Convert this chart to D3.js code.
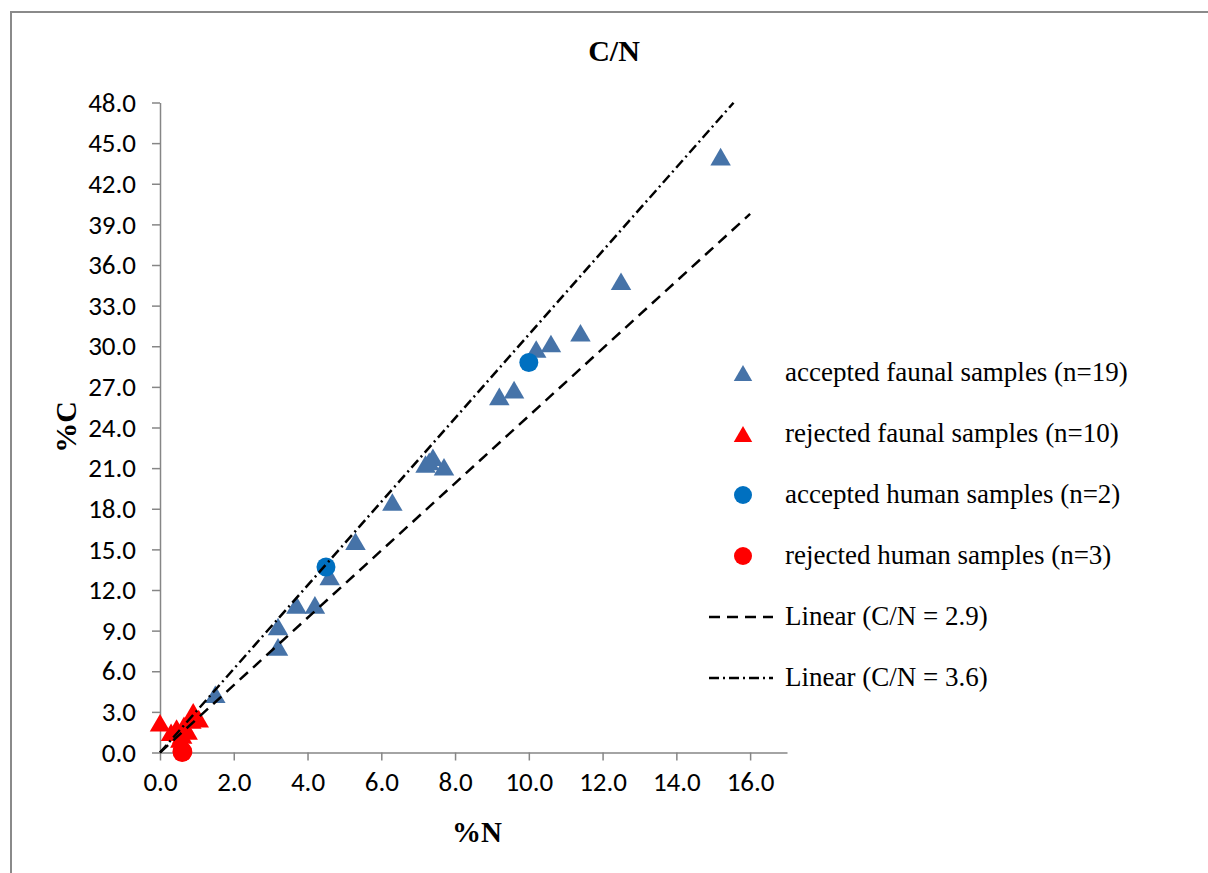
<!DOCTYPE html>
<html>
<head>
<meta charset="utf-8">
<script src="https://cdn.jsdelivr.net/npm/d3@7"></script>
<style>
  html, body { margin: 0; padding: 0; background: #fff; }
  svg { display: block; }
</style>
</head>
<body>
<svg id="chart" width="1208" height="873"></svg>
<script>
// %N / %C measurements per sample group
const acceptedFaunalN = [15.2, 12.5, 11.4, 10.6, 10.2, 9.6, 9.2, 7.2, 7.4, 7.7, 7.3, 6.3, 5.3, 4.6, 3.7, 4.2, 3.2, 3.2, 1.5];
const acceptedFaunalC = [44.0, 34.8, 31.0, 30.2, 29.8, 26.8, 26.3, 21.3, 21.8, 21.1, 21.5, 18.5, 15.6, 13.0, 10.9, 10.9, 9.3, 7.8, 4.3];

const rejectedFaunalN = [0.0, 0.3, 0.45, 0.6, 0.65, 0.75, 0.85, 0.9, 1.05, 0.55];
const rejectedFaunalC = [2.2, 1.5, 1.8, 1.3, 2.0, 1.6, 2.4, 3.0, 2.5, 1.0];

const acceptedHumanN = [4.5, 10.0];
const acceptedHumanC = [13.7, 28.8];

const rejectedHumanN = [0.6, 0.62, 0.6];
const rejectedHumanC = [0.0, 0.05, 0.1];

// reference C/N lines (atomic ratio; %C = ratio * 12/14 * %N)
const ratioValues = [2.9, 3.6];
const ratioLineEndN = [16.0, 15.55];

const xTicks = [0, 2, 4, 6, 8, 10, 12, 14, 16];
const yTicks = [0, 3, 6, 9, 12, 15, 18, 21, 24, 27, 30, 33, 36, 39, 42, 45, 48];

const legendLabels = [
  "accepted faunal samples (n=19)",
  "rejected faunal samples (n=10)",
  "accepted human samples (n=2)",
  "rejected human samples (n=3)",
  "Linear (C/N = 2.9)",
  "Linear (C/N = 3.6)"
];

const BLUE_TRI = "#4673A8";
const BLUE_DOT = "#0070C0";
const RED = "#FF0000";
const AXIS = "#868686";
const serif = "'Liberation Serif', 'Times New Roman', serif";
const sans = "Carlito, Lato, 'Liberation Sans', sans-serif";

const svg = d3.select("#chart");

// outer chart frame
svg.append("rect")
  .attr("x", 11).attr("y", 12)
  .attr("width", 1300).attr("height", 1000)
  .attr("fill", "none").attr("stroke", "#8a8a8a").attr("stroke-width", 2);

const x = d3.scaleLinear().domain([0, 17]).range([160, 787]);
const y = d3.scaleLinear().domain([0, 48]).range([752.5, 102.5]);

// axes
const fmt = d3.format(".1f");
const xAxis = svg.append("g")
  .attr("transform", `translate(0,${y(0)})`)
  .call(d3.axisBottom(x).tickValues(xTicks).tickFormat(fmt).tickSize(8).tickPadding(11).tickSizeOuter(0));
const yAxis = svg.append("g")
  .attr("transform", `translate(${x(0)},0)`)
  .call(d3.axisLeft(y).tickValues(yTicks).tickFormat(fmt).tickSize(8).tickPadding(16).tickSizeOuter(0));

[xAxis, yAxis].forEach(g => {
  g.attr("font-size", 27).attr("font-family", sans);
  g.select(".domain").attr("stroke", AXIS).attr("stroke-width", 1.5);
  g.selectAll(".tick line").attr("stroke", AXIS).attr("stroke-width", 1.5);
  g.selectAll(".tick text").attr("fill", "#000");
});

// triangle marker centred on its bounding box
const triangle = {
  draw(ctx, size) {
    const w = Math.sqrt(size), h = w * 0.86;
    ctx.moveTo(0, -h / 2);
    ctx.lineTo(w / 2, h / 2);
    ctx.lineTo(-w / 2, h / 2);
    ctx.closePath();
  }
};
const triPath = d3.symbol().type(triangle).size(420)();
const dotPath = d3.symbol().type(d3.symbolCircle).size(Math.PI * 9.5 * 9.5)();
const legTri = d3.symbol().type(triangle).size(340)();
const legDot = d3.symbol().type(d3.symbolCircle).size(Math.PI * 9 * 9)();

function drawSeries(ns, cs, path, color) {
  svg.append("g").selectAll("path")
    .data(d3.zip(ns, cs))
    .join("path")
    .attr("d", path)
    .attr("fill", color)
    .attr("transform", d => `translate(${x(d[0])},${y(d[1])})`);
}

drawSeries(acceptedFaunalN, acceptedFaunalC, triPath, BLUE_TRI);
drawSeries(rejectedFaunalN, rejectedFaunalC, triPath, RED);
drawSeries(acceptedHumanN, acceptedHumanC, dotPath, BLUE_DOT);
drawSeries(rejectedHumanN, rejectedHumanC, dotPath, RED);

// C/N reference lines
const dashes = ["11,7", "10,4,2,4"];
const line = d3.line().x(d => x(d[0])).y(d => y(d[1]));
ratioValues.forEach((r, i) => {
  const k = r * 12 / 14;
  svg.append("path")
    .datum([[0, 0], [ratioLineEndN[i], k * ratioLineEndN[i]]])
    .attr("d", line)
    .attr("fill", "none")
    .attr("stroke", "#000")
    .attr("stroke-width", 2.5)
    .attr("stroke-dasharray", dashes[i]);
});

// legend
const legendY = [373, 434, 495, 556, 617, 678];
const legend = svg.append("g");
const markers = [
  { type: "sym", path: legTri, color: BLUE_TRI },
  { type: "sym", path: legTri, color: RED },
  { type: "sym", path: legDot, color: BLUE_DOT },
  { type: "sym", path: legDot, color: RED },
  { type: "line", dash: dashes[0] },
  { type: "line", dash: dashes[1] }
];
markers.forEach((m, i) => {
  const yy = legendY[i];
  if (m.type === "sym") {
    legend.append("path").attr("d", m.path).attr("fill", m.color)
      .attr("transform", `translate(743,${yy})`);
  } else {
    legend.append("line")
      .attr("x1", 709).attr("x2", 773).attr("y1", yy).attr("y2", yy)
      .attr("stroke", "#000").attr("stroke-width", 2.5)
      .attr("stroke-dasharray", m.dash);
  }
  legend.append("text")
    .attr("x", 785).attr("y", yy + 8)
    .style("font-family", serif).style("font-size", "27px")
    .text(legendLabels[i]);
});

// titles
svg.append("text")
  .attr("x", 614).attr("y", 61)
  .attr("text-anchor", "middle")
  .style("font-family", serif).style("font-weight", "bold").style("font-size", "30px")
  .text("C/N");

svg.append("text")
  .attr("x", 477).attr("y", 842)
  .attr("text-anchor", "middle")
  .style("font-family", serif).style("font-weight", "bold").style("font-size", "29px")
  .text("%N");

svg.append("text")
  .attr("transform", "translate(76,427) rotate(-90)")
  .attr("text-anchor", "middle")
  .style("font-family", serif).style("font-weight", "bold").style("font-size", "30px")
  .text("%C");
</script>
</body>
</html>
